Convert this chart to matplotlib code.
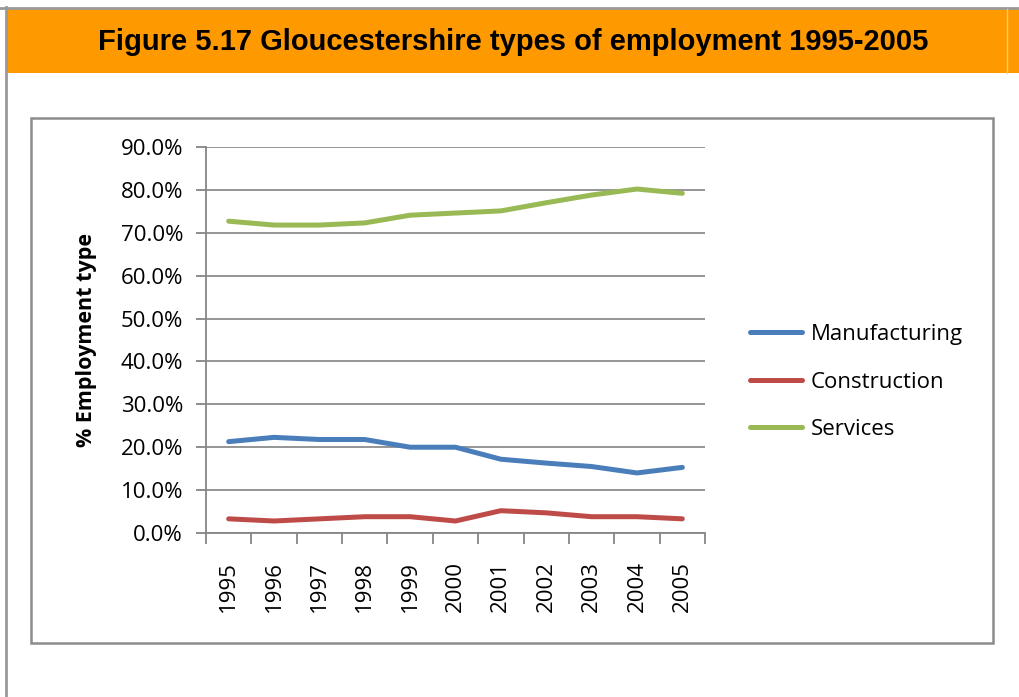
import matplotlib.pyplot as plt
from matplotlib.patches import Rectangle
from matplotlib.lines import Line2D
from matplotlib.ticker import FuncFormatter, FixedLocator

years = ['1995', '1996', '1997', '1998', '1999', '2000',
         '2001', '2002', '2003', '2004', '2005']
manufacturing = [21.3, 22.3, 21.8, 21.8, 20.0, 20.0, 17.2, 16.3, 15.5, 14.0, 15.3]
construction = [3.3, 2.8, 3.3, 3.8, 3.8, 2.8, 5.2, 4.7, 3.8, 3.8, 3.3]
services = [72.7, 71.8, 71.8, 72.3, 74.1, 74.6, 75.1, 77.0, 78.8, 80.2, 79.2]

plt.rcParams['font.family'] = ['Open Sans', 'DejaVu Sans']

fig = plt.figure(figsize=(10.2, 6.97), dpi=100)
W, H = 1020, 697

def fx(px):
    return px / W

def fy(py):
    return 1 - py / H

# page decorations: orange header band, outer border, chart box
fig.add_artist(Rectangle((fx(6), fy(73)), fx(1014), 65 / H, transform=fig.transFigure,
                         facecolor='#FF9900', edgecolor='none'))
fig.add_artist(Line2D([0, 1], [fy(8), fy(8)], transform=fig.transFigure,
                      color='#999999', lw=2))
fig.add_artist(Line2D([fx(6), fx(6)], [fy(7), 0], transform=fig.transFigure,
                      color='#999999', lw=2))
fig.add_artist(Line2D([fx(1007), fx(1007)], [fy(9), fy(73)], transform=fig.transFigure,
                      color='#FFC870', lw=1))
fig.text(fx(513), fy(42), 'Figure 5.17 Gloucestershire types of employment 1995-2005',
         family='Liberation Sans', fontweight='bold', fontsize=21,
         ha='center', va='center', color='black')
fig.add_artist(Rectangle((fx(31), fy(643)), fx(962), 525 / H, transform=fig.transFigure,
                         facecolor='none', edgecolor='#8C8C8C', lw=1.8))

ax = fig.add_axes([fx(206), fy(533), fx(499), (533 - 147) / H])
x = list(range(len(years)))
ax.plot(x, [v / 100 for v in manufacturing], color='#4A7EBB', lw=3.6,
        solid_capstyle='round', label='Manufacturing')
ax.plot(x, [v / 100 for v in construction], color='#BE4B48', lw=3.6,
        solid_capstyle='round', label='Construction')
ax.plot(x, [v / 100 for v in services], color='#98B954', lw=3.6,
        solid_capstyle='round', label='Services')

ax.set_xlim(-0.5, len(years) - 0.5)
ax.set_ylim(0, 0.9)
ax.set_yticks([i / 10 for i in range(10)])
ax.yaxis.set_major_formatter(FuncFormatter(lambda v, p: f'{v * 100:.1f}%'))
ax.xaxis.set_major_locator(FixedLocator([i - 0.5 for i in range(len(years) + 1)]))
ax.xaxis.set_minor_locator(FixedLocator(x))
ax.set_xticklabels([])
ax.set_xticklabels(years, minor=True, rotation=90)
ax.tick_params(axis='x', which='major', length=8, color='#868686', width=1.3)
ax.tick_params(axis='x', which='minor', length=0, labelsize=16, pad=20)
ax.tick_params(axis='y', length=7, color='#868686', width=1.3, labelsize=16, pad=9.5)
ax.grid(axis='y', color='#8C8C8C', lw=1.3)
ax.set_axisbelow(True)
for s in ['top', 'right']:
    ax.spines[s].set_visible(False)
for s in ['left', 'bottom']:
    ax.spines[s].set_color('#868686')
    ax.spines[s].set_linewidth(1.3)

ax.set_ylabel('% Employment type', fontsize=15.5, fontweight='bold')
ax.yaxis.set_label_coords(fx(97 - 206) / fx(499), 0.5)

ax.legend(loc='center left', bbox_to_anchor=(fx(730), fy(382)),
          bbox_transform=fig.transFigure, frameon=False, fontsize=16,
          handlelength=2.35, labelspacing=1.2, handletextpad=0.4)

fig.savefig('out.png', dpi=100)
